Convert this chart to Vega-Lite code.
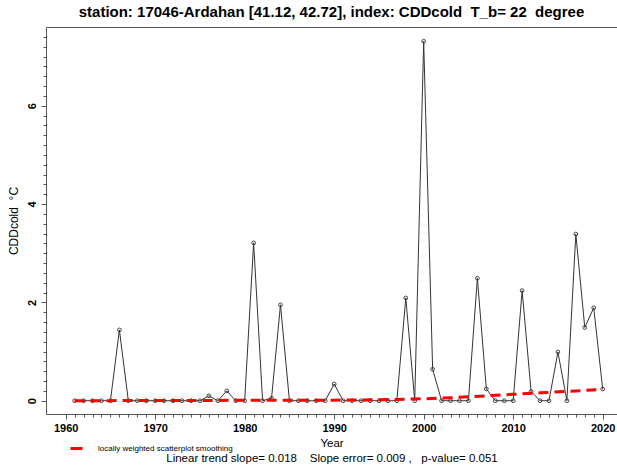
{
  "$schema": "https://vega.github.io/schema/vega-lite/v6.json",
  "autosize": "none",
  "width": 571,
  "height": 387,
  "padding": {"left": 46, "top": 27, "right": 0, "bottom": 55},
  "background": "white",
  "title": {
    "text": "station: 17046-Ardahan [41.12, 42.72], index: CDDcold\u00a0\u00a0T_b= 22\u00a0\u00a0degree",
    "fontSize": 15,
    "fontWeight": "bold",
    "font": "Liberation Sans",
    "color": "black",
    "offset": 7,
    "anchor": "middle"
  },
  "config": {
    "view": {"stroke": null},
    "axis": {
      "grid": false,
      "domainColor": "#555",
      "tickColor": "#555",
      "labelFont": "Liberation Sans",
      "titleFont": "Liberation Sans",
      "labelColor": "black",
      "titleColor": "black"
    }
  },
  "datasets": {
    "series": [
      {"year": 1961, "value": 0}, {"year": 1962, "value": 0}, {"year": 1963, "value": 0},
      {"year": 1964, "value": 0}, {"year": 1965, "value": 0}, {"year": 1966, "value": 1.44},
      {"year": 1967, "value": 0}, {"year": 1968, "value": 0}, {"year": 1969, "value": 0},
      {"year": 1970, "value": 0}, {"year": 1971, "value": 0}, {"year": 1972, "value": 0},
      {"year": 1973, "value": 0}, {"year": 1974, "value": 0}, {"year": 1975, "value": 0},
      {"year": 1976, "value": 0.1}, {"year": 1977, "value": 0}, {"year": 1978, "value": 0.2},
      {"year": 1979, "value": 0}, {"year": 1980, "value": 0}, {"year": 1981, "value": 3.21},
      {"year": 1982, "value": 0}, {"year": 1983, "value": 0.05}, {"year": 1984, "value": 1.95},
      {"year": 1985, "value": 0}, {"year": 1986, "value": 0}, {"year": 1987, "value": 0},
      {"year": 1988, "value": 0}, {"year": 1989, "value": 0}, {"year": 1990, "value": 0.34},
      {"year": 1991, "value": 0}, {"year": 1992, "value": 0}, {"year": 1993, "value": 0},
      {"year": 1994, "value": 0}, {"year": 1995, "value": 0}, {"year": 1996, "value": 0},
      {"year": 1997, "value": 0}, {"year": 1998, "value": 2.09}, {"year": 1999, "value": 0},
      {"year": 2000, "value": 7.31}, {"year": 2001, "value": 0.64}, {"year": 2002, "value": 0},
      {"year": 2003, "value": 0}, {"year": 2004, "value": 0}, {"year": 2005, "value": 0},
      {"year": 2006, "value": 2.49}, {"year": 2007, "value": 0.24}, {"year": 2008, "value": 0},
      {"year": 2009, "value": 0}, {"year": 2010, "value": 0}, {"year": 2011, "value": 2.24},
      {"year": 2012, "value": 0.19}, {"year": 2013, "value": 0}, {"year": 2014, "value": 0},
      {"year": 2015, "value": 0.99}, {"year": 2016, "value": 0}, {"year": 2017, "value": 3.39},
      {"year": 2018, "value": 1.49}, {"year": 2019, "value": 1.89}, {"year": 2020, "value": 0.24}
    ],
    "loess": [
      {"year": 1961, "fit": 0.0, "label": "locally weighted scatterplot smoothing"},
      {"year": 1965, "fit": 0.002, "label": "locally weighted scatterplot smoothing"},
      {"year": 1970, "fit": 0.004, "label": "locally weighted scatterplot smoothing"},
      {"year": 1975, "fit": 0.006, "label": "locally weighted scatterplot smoothing"},
      {"year": 1980, "fit": 0.008, "label": "locally weighted scatterplot smoothing"},
      {"year": 1985, "fit": 0.01, "label": "locally weighted scatterplot smoothing"},
      {"year": 1990, "fit": 0.012, "label": "locally weighted scatterplot smoothing"},
      {"year": 1995, "fit": 0.02, "label": "locally weighted scatterplot smoothing"},
      {"year": 1997, "fit": 0.025, "label": "locally weighted scatterplot smoothing"},
      {"year": 2000, "fit": 0.04, "label": "locally weighted scatterplot smoothing"},
      {"year": 2003, "fit": 0.06, "label": "locally weighted scatterplot smoothing"},
      {"year": 2005, "fit": 0.08, "label": "locally weighted scatterplot smoothing"},
      {"year": 2008, "fit": 0.11, "label": "locally weighted scatterplot smoothing"},
      {"year": 2010, "fit": 0.13, "label": "locally weighted scatterplot smoothing"},
      {"year": 2013, "fit": 0.16, "label": "locally weighted scatterplot smoothing"},
      {"year": 2015, "fit": 0.18, "label": "locally weighted scatterplot smoothing"},
      {"year": 2018, "fit": 0.21, "label": "locally weighted scatterplot smoothing"},
      {"year": 2020, "fit": 0.23, "label": "locally weighted scatterplot smoothing"}
    ]
  },
  "layer": [
    {
      "data": {"name": "series"},
      "mark": {"type": "line", "color": "#333", "strokeWidth": 1},
      "encoding": {
        "x": {
          "field": "year", "type": "quantitative",
          "scale": {"domain": [1957.8, 2021.6], "nice": false, "zero": false},
          "axis": {
            "orient": "bottom",
            "values": [1960,1961,1962,1963,1964,1965,1966,1967,1968,1969,1970,1971,1972,1973,1974,1975,1976,1977,1978,1979,1980,1981,1982,1983,1984,1985,1986,1987,1988,1989,1990,1991,1992,1993,1994,1995,1996,1997,1998,1999,2000,2001,2002,2003,2004,2005,2006,2007,2008,2009,2010,2011,2012,2013,2014,2015,2016,2017,2018,2019,2020],
            "labels": false, "tickSize": 3, "domain": false, "title": null
          }
        },
        "y": {
          "field": "value", "type": "quantitative",
          "scale": {"domain": [-0.27, 7.6], "nice": false, "zero": false},
          "axis": {
            "orient": "left",
            "values": [0,0.2,0.4,0.6,0.8,1,1.2,1.4,1.6,1.8,2,2.2,2.4,2.6,2.8,3,3.2,3.4,3.6,3.8,4,4.2,4.4,4.6,4.8,5,5.2,5.4,5.6,5.8,6,6.2,6.4,6.6,6.8,7,7.2,7.4],
            "labels": false, "tickSize": 3, "domain": false, "title": null
          }
        }
      }
    },
    {
      "data": {"name": "series"},
      "mark": {"type": "point", "shape": "circle", "filled": false, "size": 14, "color": "#444", "strokeWidth": 1, "opacity": 1},
      "encoding": {
        "x": {
          "field": "year", "type": "quantitative",
          "scale": {"domain": [1957.8, 2021.6], "nice": false, "zero": false},
          "axis": {"orient": "top", "ticks": false, "labels": false, "domain": true, "title": null}
        },
        "y": {
          "field": "value", "type": "quantitative",
          "scale": {"domain": [-0.27, 7.6], "nice": false, "zero": false},
          "axis": null
        }
      }
    },
    {
      "data": {"name": "loess"},
      "mark": {"type": "line", "strokeWidth": 3, "strokeDash": [10, 6]},
      "encoding": {
        "x": {
          "field": "year", "type": "quantitative",
          "scale": {"domain": [1957.8, 2021.6], "nice": false, "zero": false},
          "axis": {
            "orient": "bottom",
            "values": [1960, 1970, 1980, 1990, 2000, 2010, 2020],
            "format": "d",
            "tickSize": 5,
            "labelFontSize": 11,
            "labelFontWeight": "bold",
            "labelPadding": 3,
            "title": ["Year", "Linear trend slope= 0.018\u00a0\u00a0\u00a0\u00a0Slope error= 0.009 ,\u00a0\u00a0\u00a0p-value= 0.051"],
            "titleFontSize": 11.5,
            "titleFontWeight": "normal",
            "titlePadding": 4,
            "titleLineHeight": 15
          }
        },
        "y": {
          "field": "fit", "type": "quantitative",
          "scale": {"domain": [-0.27, 7.6], "nice": false, "zero": false},
          "axis": {
            "orient": "left",
            "values": [0, 2, 4, 6],
            "tickSize": 5,
            "labelAngle": 270,
            "labelAlign": "center",
            "labelBaseline": "bottom",
            "labelFontSize": 11,
            "labelFontWeight": "bold",
            "labelPadding": 4,
            "title": "CDDcold\u00a0\u00a0°C",
            "titleFontSize": 12,
            "titleFontWeight": "normal",
            "titlePadding": 6
          }
        },
        "color": {
          "field": "label", "type": "nominal",
          "scale": {"range": ["#ff0000"]},
          "legend": {
            "orient": "none",
            "legendX": 23,
            "legendY": 414,
            "title": null,
            "symbolType": "stroke",
            "symbolStrokeWidth": 3,
            "symbolSize": 144,
            "labelFontSize": 8,
            "labelFont": "Liberation Sans",
            "labelOffset": 14,
            "padding": 0
          }
        }
      }
    }
  ],
  "resolve": {"axis": {"x": "independent", "y": "independent"}}
}
